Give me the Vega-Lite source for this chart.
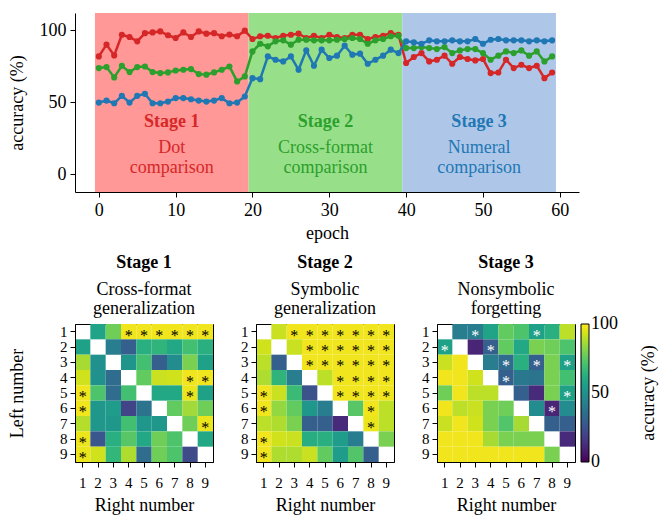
{
"$schema": "https://vega.github.io/schema/vega-lite/v6.json",
"background": "white",
"padding": {"left": 8, "top": 13, "right": 5, "bottom": 5},
"config": {
  "font": "Liberation Serif",
  "view": {"stroke": null},
  "axis": {"labelFont": "Liberation Serif", "titleFont": "Liberation Serif", "labelFontSize": 18, "titleFontSize": 18, "labelColor": "black", "titleColor": "black", "domainColor": "black", "tickColor": "black", "grid": false, "titleFontWeight": "normal", "tickSize": 5, "labelPadding": 4},
  "title": {"font": "Liberation Serif", "fontSize": 18, "color": "black", "subtitleFont": "Liberation Serif", "subtitleFontSize": 18, "subtitleColor": "black"},
  "legend": {"gradientLength": 138, "gradientThickness": 8, "titleOrient": "right", "titleBaseline": "top", "labelFont": "Liberation Serif", "labelFontSize": 18, "titleFont": "Liberation Serif", "titleFontSize": 18, "titleFontWeight": "normal", "labelColor": "black", "titleColor": "black", "gradientStrokeColor": "black", "gradientStrokeWidth": 1, "offset": 6, "padding": 0, "labelOffset": 14, "titleAnchor": "middle", "titlePadding": 22}
},
"datasets": {
  "curves": [
    {"epoch":0,"dot":81.8,"cross":73.7,"numeral":49.7},{"epoch":1,"dot":90,"cross":74.4,"numeral":51.1},{"epoch":2,"dot":82.5,"cross":67.2,"numeral":49.2},{"epoch":3,"dot":96.9,"cross":75.3,"numeral":54.4},{"epoch":4,"dot":95.3,"cross":70.9,"numeral":49.7},{"epoch":5,"dot":92.3,"cross":74.4,"numeral":54.4},{"epoch":6,"dot":98,"cross":74.8,"numeral":55.8},{"epoch":7,"dot":98.5,"cross":70.9,"numeral":49.2},{"epoch":8,"dot":99.2,"cross":70.2,"numeral":49.2},{"epoch":9,"dot":96.5,"cross":70.7,"numeral":50.4},
    {"epoch":10,"dot":94.6,"cross":72,"numeral":52.8},{"epoch":11,"dot":98.5,"cross":72.5,"numeral":52.8},{"epoch":12,"dot":95.3,"cross":73,"numeral":52},{"epoch":13,"dot":99.2,"cross":69.5,"numeral":51.1},{"epoch":14,"dot":97.6,"cross":69.1,"numeral":50.4},{"epoch":15,"dot":98,"cross":70.7,"numeral":51.1},{"epoch":16,"dot":95.8,"cross":72.5,"numeral":52.8},{"epoch":17,"dot":97,"cross":74.8,"numeral":49.2},{"epoch":18,"dot":95.8,"cross":64.4,"numeral":49.7},{"epoch":19,"dot":99.7,"cross":67.9,"numeral":53.9},
    {"epoch":20,"dot":93.9,"cross":85.3,"numeral":66.7},{"epoch":21,"dot":95.8,"cross":90.6,"numeral":66},{"epoch":22,"dot":96.2,"cross":88.8,"numeral":81.8},{"epoch":23,"dot":94.6,"cross":92.3,"numeral":79.5},{"epoch":24,"dot":96.2,"cross":93,"numeral":78.3},{"epoch":25,"dot":96.9,"cross":90,"numeral":81.8},{"epoch":26,"dot":97.6,"cross":93.4,"numeral":72.5},{"epoch":27,"dot":94.6,"cross":93.4,"numeral":86},{"epoch":28,"dot":96.2,"cross":93,"numeral":75.3},{"epoch":29,"dot":94.6,"cross":93,"numeral":86.5},
    {"epoch":30,"dot":96.9,"cross":93,"numeral":80.7},{"epoch":31,"dot":95.3,"cross":93.4,"numeral":82.3},{"epoch":32,"dot":94.6,"cross":93.9,"numeral":89.3},{"epoch":33,"dot":96.9,"cross":94.6,"numeral":83},{"epoch":34,"dot":96.9,"cross":93.9,"numeral":83.7},{"epoch":35,"dot":93.9,"cross":90.6,"numeral":76.7},{"epoch":36,"dot":95.3,"cross":93,"numeral":79.5},{"epoch":37,"dot":96.2,"cross":93.9,"numeral":82.3},{"epoch":38,"dot":98.1,"cross":95.8,"numeral":86.5},{"epoch":39,"dot":96.9,"cross":96.2,"numeral":84.1},
    {"epoch":40,"dot":77.2,"cross":87.6,"numeral":92.3},{"epoch":41,"dot":81.4,"cross":87.6,"numeral":91.6},{"epoch":42,"dot":84.1,"cross":88.3,"numeral":90.6},{"epoch":43,"dot":78.3,"cross":87.6,"numeral":93},{"epoch":44,"dot":79.5,"cross":86.9,"numeral":92.3},{"epoch":45,"dot":82.3,"cross":88.3,"numeral":92.3},{"epoch":46,"dot":76.7,"cross":84.1,"numeral":93},{"epoch":47,"dot":81.4,"cross":86,"numeral":92.3},{"epoch":48,"dot":80,"cross":86.9,"numeral":92.3},{"epoch":49,"dot":79,"cross":86.9,"numeral":93.9},
    {"epoch":50,"dot":80,"cross":84.1,"numeral":90.6},{"epoch":51,"dot":70.2,"cross":79.5,"numeral":93.4},{"epoch":52,"dot":70.6,"cross":82.3,"numeral":93.9},{"epoch":53,"dot":79.5,"cross":85.3,"numeral":93},{"epoch":54,"dot":73.7,"cross":84.1,"numeral":93},{"epoch":55,"dot":76,"cross":86,"numeral":93},{"epoch":56,"dot":73.7,"cross":82.3,"numeral":92.3},{"epoch":57,"dot":75.3,"cross":85.3,"numeral":93},{"epoch":58,"dot":66.7,"cross":78.3,"numeral":92.3},{"epoch":59,"dot":70.6,"cross":81.8,"numeral":93}
  ],
  "cells": [
    {"stage":1,"left":1,"right":2,"acc":58,"sig":0},{"stage":1,"left":1,"right":3,"acc":78,"sig":0},{"stage":1,"left":1,"right":4,"acc":98,"sig":1},{"stage":1,"left":1,"right":5,"acc":98,"sig":1},{"stage":1,"left":1,"right":6,"acc":98,"sig":1},{"stage":1,"left":1,"right":7,"acc":98,"sig":1},{"stage":1,"left":1,"right":8,"acc":98,"sig":1},{"stage":1,"left":1,"right":9,"acc":98,"sig":1},
    {"stage":1,"left":2,"right":1,"acc":57,"sig":0},{"stage":1,"left":2,"right":3,"acc":42,"sig":0},{"stage":1,"left":2,"right":4,"acc":30,"sig":0},{"stage":1,"left":2,"right":5,"acc":63,"sig":0},{"stage":1,"left":2,"right":6,"acc":65,"sig":0},{"stage":1,"left":2,"right":7,"acc":60,"sig":0},{"stage":1,"left":2,"right":8,"acc":70,"sig":0},{"stage":1,"left":2,"right":9,"acc":63,"sig":0},
    {"stage":1,"left":3,"right":1,"acc":87,"sig":0},{"stage":1,"left":3,"right":2,"acc":50,"sig":0},{"stage":1,"left":3,"right":4,"acc":52,"sig":0},{"stage":1,"left":3,"right":5,"acc":70,"sig":0},{"stage":1,"left":3,"right":6,"acc":30,"sig":0},{"stage":1,"left":3,"right":7,"acc":48,"sig":0},{"stage":1,"left":3,"right":8,"acc":80,"sig":0},{"stage":1,"left":3,"right":9,"acc":57,"sig":0},
    {"stage":1,"left":4,"right":1,"acc":93,"sig":0},{"stage":1,"left":4,"right":2,"acc":50,"sig":0},{"stage":1,"left":4,"right":3,"acc":35,"sig":0},{"stage":1,"left":4,"right":5,"acc":76,"sig":0},{"stage":1,"left":4,"right":6,"acc":92,"sig":0},{"stage":1,"left":4,"right":7,"acc":93,"sig":0},{"stage":1,"left":4,"right":8,"acc":98,"sig":1},{"stage":1,"left":4,"right":9,"acc":98,"sig":1},
    {"stage":1,"left":5,"right":1,"acc":98,"sig":1},{"stage":1,"left":5,"right":2,"acc":72,"sig":0},{"stage":1,"left":5,"right":3,"acc":35,"sig":0},{"stage":1,"left":5,"right":4,"acc":70,"sig":0},{"stage":1,"left":5,"right":6,"acc":60,"sig":0},{"stage":1,"left":5,"right":7,"acc":60,"sig":0},{"stage":1,"left":5,"right":8,"acc":97,"sig":1},{"stage":1,"left":5,"right":9,"acc":57,"sig":0},
    {"stage":1,"left":6,"right":1,"acc":98,"sig":1},{"stage":1,"left":6,"right":2,"acc":53,"sig":0},{"stage":1,"left":6,"right":3,"acc":55,"sig":0},{"stage":1,"left":6,"right":4,"acc":20,"sig":0},{"stage":1,"left":6,"right":5,"acc":38,"sig":0},{"stage":1,"left":6,"right":7,"acc":76,"sig":0},{"stage":1,"left":6,"right":8,"acc":86,"sig":0},{"stage":1,"left":6,"right":9,"acc":78,"sig":0},
    {"stage":1,"left":7,"right":1,"acc":89,"sig":0},{"stage":1,"left":7,"right":2,"acc":53,"sig":0},{"stage":1,"left":7,"right":3,"acc":53,"sig":0},{"stage":1,"left":7,"right":4,"acc":70,"sig":0},{"stage":1,"left":7,"right":5,"acc":53,"sig":0},{"stage":1,"left":7,"right":6,"acc":53,"sig":0},{"stage":1,"left":7,"right":8,"acc":78,"sig":0},{"stage":1,"left":7,"right":9,"acc":97,"sig":1},
    {"stage":1,"left":8,"right":1,"acc":97,"sig":1},{"stage":1,"left":8,"right":2,"acc":27,"sig":0},{"stage":1,"left":8,"right":3,"acc":63,"sig":0},{"stage":1,"left":8,"right":4,"acc":74,"sig":0},{"stage":1,"left":8,"right":5,"acc":60,"sig":0},{"stage":1,"left":8,"right":6,"acc":78,"sig":0},{"stage":1,"left":8,"right":7,"acc":72,"sig":0},{"stage":1,"left":8,"right":9,"acc":60,"sig":0},
    {"stage":1,"left":9,"right":1,"acc":97,"sig":1},{"stage":1,"left":9,"right":2,"acc":93,"sig":0},{"stage":1,"left":9,"right":3,"acc":66,"sig":0},{"stage":1,"left":9,"right":4,"acc":88,"sig":0},{"stage":1,"left":9,"right":5,"acc":35,"sig":0},{"stage":1,"left":9,"right":6,"acc":78,"sig":0},{"stage":1,"left":9,"right":7,"acc":72,"sig":0},{"stage":1,"left":9,"right":8,"acc":22,"sig":0},

    {"stage":2,"left":1,"right":2,"acc":92,"sig":0},{"stage":2,"left":1,"right":3,"acc":98,"sig":1},{"stage":2,"left":1,"right":4,"acc":98,"sig":1},{"stage":2,"left":1,"right":5,"acc":98,"sig":1},{"stage":2,"left":1,"right":6,"acc":98,"sig":1},{"stage":2,"left":1,"right":7,"acc":98,"sig":1},{"stage":2,"left":1,"right":8,"acc":98,"sig":1},{"stage":2,"left":1,"right":9,"acc":98,"sig":1},
    {"stage":2,"left":2,"right":1,"acc":93,"sig":0},{"stage":2,"left":2,"right":3,"acc":92,"sig":0},{"stage":2,"left":2,"right":4,"acc":98,"sig":1},{"stage":2,"left":2,"right":5,"acc":98,"sig":1},{"stage":2,"left":2,"right":6,"acc":98,"sig":1},{"stage":2,"left":2,"right":7,"acc":98,"sig":1},{"stage":2,"left":2,"right":8,"acc":98,"sig":1},{"stage":2,"left":2,"right":9,"acc":98,"sig":1},
    {"stage":2,"left":3,"right":1,"acc":90,"sig":0},{"stage":2,"left":3,"right":2,"acc":30,"sig":0},{"stage":2,"left":3,"right":4,"acc":98,"sig":1},{"stage":2,"left":3,"right":5,"acc":98,"sig":1},{"stage":2,"left":3,"right":6,"acc":98,"sig":1},{"stage":2,"left":3,"right":7,"acc":98,"sig":1},{"stage":2,"left":3,"right":8,"acc":98,"sig":1},{"stage":2,"left":3,"right":9,"acc":98,"sig":1},
    {"stage":2,"left":4,"right":1,"acc":88,"sig":0},{"stage":2,"left":4,"right":2,"acc":65,"sig":0},{"stage":2,"left":4,"right":3,"acc":42,"sig":0},{"stage":2,"left":4,"right":5,"acc":90,"sig":0},{"stage":2,"left":4,"right":6,"acc":98,"sig":1},{"stage":2,"left":4,"right":7,"acc":98,"sig":1},{"stage":2,"left":4,"right":8,"acc":98,"sig":1},{"stage":2,"left":4,"right":9,"acc":98,"sig":1},
    {"stage":2,"left":5,"right":1,"acc":98,"sig":1},{"stage":2,"left":5,"right":2,"acc":92,"sig":0},{"stage":2,"left":5,"right":3,"acc":68,"sig":0},{"stage":2,"left":5,"right":4,"acc":25,"sig":0},{"stage":2,"left":5,"right":6,"acc":98,"sig":1},{"stage":2,"left":5,"right":7,"acc":98,"sig":1},{"stage":2,"left":5,"right":8,"acc":98,"sig":1},{"stage":2,"left":5,"right":9,"acc":98,"sig":1},
    {"stage":2,"left":6,"right":1,"acc":98,"sig":1},{"stage":2,"left":6,"right":2,"acc":84,"sig":0},{"stage":2,"left":6,"right":3,"acc":76,"sig":0},{"stage":2,"left":6,"right":4,"acc":53,"sig":0},{"stage":2,"left":6,"right":5,"acc":42,"sig":0},{"stage":2,"left":6,"right":7,"acc":74,"sig":0},{"stage":2,"left":6,"right":8,"acc":98,"sig":1},{"stage":2,"left":6,"right":9,"acc":90,"sig":0},
    {"stage":2,"left":7,"right":1,"acc":90,"sig":0},{"stage":2,"left":7,"right":2,"acc":88,"sig":0},{"stage":2,"left":7,"right":3,"acc":80,"sig":0},{"stage":2,"left":7,"right":4,"acc":30,"sig":0},{"stage":2,"left":7,"right":5,"acc":30,"sig":0},{"stage":2,"left":7,"right":6,"acc":12,"sig":0},{"stage":2,"left":7,"right":8,"acc":97,"sig":1},{"stage":2,"left":7,"right":9,"acc":90,"sig":0},
    {"stage":2,"left":8,"right":1,"acc":98,"sig":1},{"stage":2,"left":8,"right":2,"acc":93,"sig":0},{"stage":2,"left":8,"right":3,"acc":92,"sig":0},{"stage":2,"left":8,"right":4,"acc":62,"sig":0},{"stage":2,"left":8,"right":5,"acc":63,"sig":0},{"stage":2,"left":8,"right":6,"acc":55,"sig":0},{"stage":2,"left":8,"right":7,"acc":42,"sig":0},{"stage":2,"left":8,"right":9,"acc":80,"sig":0},
    {"stage":2,"left":9,"right":1,"acc":98,"sig":1},{"stage":2,"left":9,"right":2,"acc":88,"sig":0},{"stage":2,"left":9,"right":3,"acc":88,"sig":0},{"stage":2,"left":9,"right":4,"acc":92,"sig":0},{"stage":2,"left":9,"right":5,"acc":76,"sig":0},{"stage":2,"left":9,"right":6,"acc":55,"sig":0},{"stage":2,"left":9,"right":7,"acc":73,"sig":0},{"stage":2,"left":9,"right":8,"acc":30,"sig":0},

    {"stage":3,"left":1,"right":2,"acc":42,"sig":0},{"stage":3,"left":1,"right":3,"acc":42,"sig":1},{"stage":3,"left":1,"right":4,"acc":58,"sig":0},{"stage":3,"left":1,"right":5,"acc":76,"sig":0},{"stage":3,"left":1,"right":6,"acc":72,"sig":0},{"stage":3,"left":1,"right":7,"acc":57,"sig":1},{"stage":3,"left":1,"right":8,"acc":63,"sig":0},{"stage":3,"left":1,"right":9,"acc":90,"sig":0},
    {"stage":3,"left":2,"right":1,"acc":57,"sig":1},{"stage":3,"left":2,"right":3,"acc":10,"sig":0},{"stage":3,"left":2,"right":4,"acc":30,"sig":1},{"stage":3,"left":2,"right":5,"acc":76,"sig":0},{"stage":3,"left":2,"right":6,"acc":60,"sig":0},{"stage":3,"left":2,"right":7,"acc":80,"sig":0},{"stage":3,"left":2,"right":8,"acc":78,"sig":0},{"stage":3,"left":2,"right":9,"acc":72,"sig":0},
    {"stage":3,"left":3,"right":1,"acc":92,"sig":0},{"stage":3,"left":3,"right":2,"acc":98,"sig":0},{"stage":3,"left":3,"right":4,"acc":42,"sig":0},{"stage":3,"left":3,"right":5,"acc":35,"sig":1},{"stage":3,"left":3,"right":6,"acc":63,"sig":0},{"stage":3,"left":3,"right":7,"acc":30,"sig":1},{"stage":3,"left":3,"right":8,"acc":80,"sig":0},{"stage":3,"left":3,"right":9,"acc":57,"sig":1},
    {"stage":3,"left":4,"right":1,"acc":98,"sig":0},{"stage":3,"left":4,"right":2,"acc":98,"sig":0},{"stage":3,"left":4,"right":3,"acc":93,"sig":0},{"stage":3,"left":4,"right":5,"acc":30,"sig":1},{"stage":3,"left":4,"right":6,"acc":40,"sig":0},{"stage":3,"left":4,"right":7,"acc":38,"sig":0},{"stage":3,"left":4,"right":8,"acc":80,"sig":0},{"stage":3,"left":4,"right":9,"acc":70,"sig":0},
    {"stage":3,"left":5,"right":1,"acc":78,"sig":0},{"stage":3,"left":5,"right":2,"acc":98,"sig":0},{"stage":3,"left":5,"right":3,"acc":90,"sig":0},{"stage":3,"left":5,"right":4,"acc":90,"sig":0},{"stage":3,"left":5,"right":6,"acc":30,"sig":0},{"stage":3,"left":5,"right":7,"acc":12,"sig":0},{"stage":3,"left":5,"right":8,"acc":80,"sig":0},{"stage":3,"left":5,"right":9,"acc":57,"sig":1},
    {"stage":3,"left":6,"right":1,"acc":98,"sig":0},{"stage":3,"left":6,"right":2,"acc":90,"sig":0},{"stage":3,"left":6,"right":3,"acc":92,"sig":0},{"stage":3,"left":6,"right":4,"acc":80,"sig":0},{"stage":3,"left":6,"right":5,"acc":78,"sig":0},{"stage":3,"left":6,"right":7,"acc":48,"sig":0},{"stage":3,"left":6,"right":8,"acc":10,"sig":1},{"stage":3,"left":6,"right":9,"acc":48,"sig":0},
    {"stage":3,"left":7,"right":1,"acc":92,"sig":0},{"stage":3,"left":7,"right":2,"acc":98,"sig":0},{"stage":3,"left":7,"right":3,"acc":93,"sig":0},{"stage":3,"left":7,"right":4,"acc":80,"sig":0},{"stage":3,"left":7,"right":5,"acc":73,"sig":0},{"stage":3,"left":7,"right":6,"acc":87,"sig":0},{"stage":3,"left":7,"right":8,"acc":30,"sig":0},{"stage":3,"left":7,"right":9,"acc":30,"sig":0},
    {"stage":3,"left":8,"right":1,"acc":98,"sig":0},{"stage":3,"left":8,"right":2,"acc":98,"sig":0},{"stage":3,"left":8,"right":3,"acc":98,"sig":0},{"stage":3,"left":8,"right":4,"acc":87,"sig":0},{"stage":3,"left":8,"right":5,"acc":80,"sig":0},{"stage":3,"left":8,"right":6,"acc":80,"sig":0},{"stage":3,"left":8,"right":7,"acc":80,"sig":0},{"stage":3,"left":8,"right":9,"acc":12,"sig":0},
    {"stage":3,"left":9,"right":1,"acc":98,"sig":0},{"stage":3,"left":9,"right":2,"acc":98,"sig":0},{"stage":3,"left":9,"right":3,"acc":98,"sig":0},{"stage":3,"left":9,"right":4,"acc":98,"sig":0},{"stage":3,"left":9,"right":5,"acc":98,"sig":0},{"stage":3,"left":9,"right":6,"acc":98,"sig":0},{"stage":3,"left":9,"right":7,"acc":98,"sig":0},{"stage":3,"left":9,"right":8,"acc":80,"sig":0}
  ]
},
"spacing": 11,
"vconcat": [
  {
    "width": 504, "height": 179,
    "resolve": {"scale": {"color": "independent"}},
    "layer": [
      {
        "data": {"values": [{"stage":"Stage 1","start":-0.5,"end":19.5},{"stage":"Stage 2","start":19.5,"end":39.5},{"stage":"Stage 3","start":39.5,"end":59.5}]},
        "mark": {"type": "rect"},
        "encoding": {
          "x": {"field": "start", "type": "quantitative", "scale": {"domain": [-3.1, 62.5], "nice": false, "zero": false}, "axis": {"values": [0,10,20,30,40,50,60], "title": "epoch", "titlePadding": 5}},
          "x2": {"field": "end"},
          "color": {"field": "stage", "type": "nominal", "scale": {"domain": ["Stage 1","Stage 2","Stage 3"], "range": ["#ff9896","#98df8a","#aec7e8"]}, "legend": null}
        }
      },
      {
        "data": {"name": "curves"},
        "transform": [{"fold": ["dot","cross","numeral"], "as": ["task","acc"]}],
        "mark": {"type": "line", "strokeWidth": 2.5},
        "encoding": {
          "x": {"field": "epoch", "type": "quantitative"},
          "y": {"field": "acc", "type": "quantitative", "scale": {"domain": [-12.5, 112], "nice": false, "zero": false}, "axis": {"values": [0,50,100], "title": "accuracy (%)", "titlePadding": 13}},
          "color": {"field": "task", "type": "nominal", "scale": {"domain": ["dot","cross","numeral"], "range": ["#d62728","#2ca02c","#1f77b4"]}, "legend": null}
        }
      },
      {
        "data": {"name": "curves"},
        "transform": [{"fold": ["dot","cross","numeral"], "as": ["task","acc"]}],
        "mark": {"type": "circle", "size": 38, "opacity": 1},
        "encoding": {
          "x": {"field": "epoch", "type": "quantitative"},
          "y": {"field": "acc", "type": "quantitative"},
          "color": {"field": "task", "type": "nominal", "scale": {"domain": ["dot","cross","numeral"], "range": ["#d62728","#2ca02c","#1f77b4"]}, "legend": null}
        }
      },
      {
        "data": {"values": [{"stage":"Stage 1","pos":9.5,"line1":"Dot","line2":"comparison"},{"stage":"Stage 2","pos":29.5,"line1":"Cross-format","line2":"comparison"},{"stage":"Stage 3","pos":49.5,"line1":"Numeral","line2":"comparison"}]},
        "mark": {"type": "text", "fontSize": 18, "fontWeight": "bold", "baseline": "middle"},
        "encoding": {
          "x": {"field": "pos", "type": "quantitative"},
          "y": {"datum": 36},
          "text": {"field": "stage"},
          "color": {"field": "stage", "type": "nominal", "scale": {"domain": ["Stage 1","Stage 2","Stage 3"], "range": ["#d62728","#2ca02c","#1f77b4"]}, "legend": null}
        }
      },
      {
        "data": {"values": [{"stage":"Stage 1","pos":9.5,"line1":"Dot","line2":"comparison"},{"stage":"Stage 2","pos":29.5,"line1":"Cross-format","line2":"comparison"},{"stage":"Stage 3","pos":49.5,"line1":"Numeral","line2":"comparison"}]},
        "mark": {"type": "text", "fontSize": 18, "baseline": "middle"},
        "encoding": {
          "x": {"field": "pos", "type": "quantitative"},
          "y": {"datum": 18},
          "text": {"field": "line1"},
          "color": {"field": "stage", "type": "nominal", "scale": {"domain": ["Stage 1","Stage 2","Stage 3"], "range": ["#d62728","#2ca02c","#1f77b4"]}, "legend": null}
        }
      },
      {
        "data": {"values": [{"stage":"Stage 1","pos":9.5,"line1":"Dot","line2":"comparison"},{"stage":"Stage 2","pos":29.5,"line1":"Cross-format","line2":"comparison"},{"stage":"Stage 3","pos":49.5,"line1":"Numeral","line2":"comparison"}]},
        "mark": {"type": "text", "fontSize": 18, "baseline": "middle"},
        "encoding": {
          "x": {"field": "pos", "type": "quantitative"},
          "y": {"datum": 4.5},
          "text": {"field": "line2"},
          "color": {"field": "stage", "type": "nominal", "scale": {"domain": ["Stage 1","Stage 2","Stage 3"], "range": ["#d62728","#2ca02c","#1f77b4"]}, "legend": null}
        }
      }
    ]
  },
  {
    "spacing": 26,
    "resolve": {"scale": {"color": "independent"}},
    "hconcat": [
      {
        "width": 138, "height": 138,
        "view": {"stroke": "black", "strokeWidth": 1},
        "title": {"text": "Stage 1", "subtitle": ["Cross-format", "generalization"], "fontWeight": "bold", "anchor": "middle", "frame": "group", "offset": 6, "subtitlePadding": 9, "subtitleLineHeight": 19},
        "data": {"name": "cells"},
        "transform": [{"filter": "datum.stage == 1"}],
        "encoding": {
          "x": {"field": "right", "type": "ordinal", "scale": {"domain": [1,2,3,4,5,6,7,8,9], "paddingInner": 0, "paddingOuter": 0}, "axis": {"title": "Right number", "labelAngle": 0, "labelPadding": 8, "titlePadding": 6, "labelFontSize": 15}},
          "y": {"field": "left", "type": "ordinal", "scale": {"domain": [1,2,3,4,5,6,7,8,9], "paddingInner": 0, "paddingOuter": 0}, "axis": {"title": "Left number", "labelPadding": 3, "titlePadding": 33, "labelFontSize": 15}}
        },
        "layer": [
          {"mark": {"type": "rect"}, "encoding": {"color": {"field": "acc", "type": "quantitative", "scale": {"scheme": "viridis", "domain": [0, 100]}, "legend": null}}},
          {"transform": [{"filter": "datum.sig == 1"}], "mark": {"type": "text", "text": "*", "fontSize": 16, "color": "black", "baseline": "middle", "dy": 4}}
        ]
      },
      {
        "width": 138, "height": 138,
        "view": {"stroke": "black", "strokeWidth": 1},
        "title": {"text": "Stage 2", "subtitle": ["Symbolic", "generalization"], "fontWeight": "bold", "anchor": "middle", "frame": "group", "offset": 6, "subtitlePadding": 9, "subtitleLineHeight": 19},
        "data": {"name": "cells"},
        "transform": [{"filter": "datum.stage == 2"}],
        "encoding": {
          "x": {"field": "right", "type": "ordinal", "scale": {"domain": [1,2,3,4,5,6,7,8,9], "paddingInner": 0, "paddingOuter": 0}, "axis": {"title": "Right number", "labelAngle": 0, "labelPadding": 8, "titlePadding": 6, "labelFontSize": 15}},
          "y": {"field": "left", "type": "ordinal", "scale": {"domain": [1,2,3,4,5,6,7,8,9], "paddingInner": 0, "paddingOuter": 0}, "axis": {"title": null, "labelPadding": 3, "labelFontSize": 15}}
        },
        "layer": [
          {"mark": {"type": "rect"}, "encoding": {"color": {"field": "acc", "type": "quantitative", "scale": {"scheme": "viridis", "domain": [0, 100]}, "legend": null}}},
          {"transform": [{"filter": "datum.sig == 1"}], "mark": {"type": "text", "text": "*", "fontSize": 16, "color": "black", "baseline": "middle", "dy": 4}}
        ]
      },
      {
        "width": 138, "height": 138,
        "view": {"stroke": "black", "strokeWidth": 1},
        "title": {"text": "Stage 3", "subtitle": ["Nonsymbolic", "forgetting"], "fontWeight": "bold", "anchor": "middle", "frame": "group", "offset": 6, "subtitlePadding": 9, "subtitleLineHeight": 19},
        "data": {"name": "cells"},
        "transform": [{"filter": "datum.stage == 3"}],
        "encoding": {
          "x": {"field": "right", "type": "ordinal", "scale": {"domain": [1,2,3,4,5,6,7,8,9], "paddingInner": 0, "paddingOuter": 0}, "axis": {"title": "Right number", "labelAngle": 0, "labelPadding": 8, "titlePadding": 6, "labelFontSize": 15}},
          "y": {"field": "left", "type": "ordinal", "scale": {"domain": [1,2,3,4,5,6,7,8,9], "paddingInner": 0, "paddingOuter": 0}, "axis": {"title": null, "labelPadding": 3, "labelFontSize": 15}}
        },
        "layer": [
          {"mark": {"type": "rect"}, "encoding": {"color": {"field": "acc", "type": "quantitative", "scale": {"scheme": "viridis", "domain": [0, 100]}, "legend": {"title": "accuracy (%)", "values": [0, 50, 100], "encode": {"title": {"update": {"angle": {"value": -90}}}, "labels": {"update": {"baseline": {"value": "middle"}}}}}}}},
          {"transform": [{"filter": "datum.sig == 1"}], "mark": {"type": "text", "text": "*", "fontSize": 16, "color": "white", "baseline": "middle", "dy": 4}}
        ]
      }
    ]
  }
]
}
